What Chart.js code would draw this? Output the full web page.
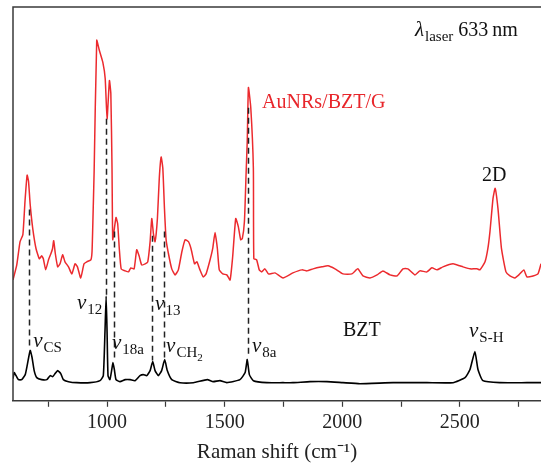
<!DOCTYPE html>
<html lang="en">
<head>
<meta charset="UTF-8">
<title>Raman spectra</title>
<script src="https://cdn.jsdelivr.net/npm/chart.js@4.4.0/dist/chart.umd.min.js"></script>
<style>
    html, body { margin: 0; padding: 0; background: #fff; }
    #chart_parent { width: 541px; height: 466px; }
</style>
</head>
<body>
<div id="chart_parent">
    <canvas id="myChart"></canvas>
</div>
<script>
    // AuNRs/BZT/G spectrum (offset upward), Raman shift in cm-1 and counts (arb.)
    var redShift = [600, 616, 630, 642, 651, 660, 666, 673, 684, 698, 712, 722, 729, 739, 751, 761, 768, 773, 780, 790,
        800, 811, 821, 836, 850, 864, 874, 888, 902, 914, 931, 936, 940, 945, 956, 967, 982, 992, 1000, 1010,
        1016, 1021, 1024, 1031, 1038, 1045, 1052, 1060, 1077, 1091, 1101, 1115, 1126, 1136, 1147, 1162, 1173, 1183, 1190, 1197,
        1204, 1214, 1222, 1230, 1237, 1244, 1251, 1261, 1275, 1289, 1303, 1318, 1332, 1346, 1357, 1372, 1382, 1395, 1409, 1421,
        1438, 1449, 1459, 1469, 1477, 1492, 1509, 1523, 1534, 1547, 1558, 1568, 1575, 1584, 1591, 1596, 1601, 1611, 1622, 1624,
        1636, 1647, 1657, 1671, 1686, 1714, 1748, 1790, 1829, 1850, 1876, 1914, 1939, 1969, 2003, 2041, 2066, 2088, 2118, 2148,
        2173, 2203, 2233, 2258, 2279, 2309, 2330, 2360, 2381, 2403, 2428, 2471, 2500, 2513, 2543, 2573, 2585, 2607, 2619, 2628,
        2641, 2650, 2662, 2677, 2696, 2713, 2734, 2751, 2772, 2785, 2811, 2832, 2845];
    var redCounts = [120, 135, 158, 165, 198, 224, 218, 195, 171, 151, 141, 144, 141, 130, 140, 146, 151, 159, 146, 133,
        136, 145, 138, 133, 126, 136, 133, 122, 136, 138, 140, 148, 181, 228, 358, 348, 336, 320, 280, 318,
        305, 231, 160, 171, 182, 176, 151, 131, 129, 128, 132, 131, 150, 144, 135, 136, 138, 158, 181, 166,
        158, 181, 221, 242, 231, 191, 160, 146, 131, 125, 130, 148, 160, 158, 151, 136, 138, 130, 123, 126,
        140, 151, 167, 151, 130, 126, 125, 120, 143, 181, 173, 160, 161, 178, 225, 258, 311, 291, 231, 141,
        140, 130, 128, 131, 126, 127, 122, 127, 130, 129, 131, 133, 134, 131, 126, 126, 131, 124, 122, 125,
        129, 125, 124, 131, 131, 125, 129, 128, 132, 130, 133, 136, 134, 133, 131, 131, 130, 138, 151, 168,
        201, 211, 191, 151, 128, 124, 122, 125, 130, 123, 124, 126, 136];

    // BZT reference spectrum
    var blackShift = [600, 605, 613, 623, 637, 652, 661, 673, 681, 690, 701, 722, 744, 758, 769, 779, 790, 803, 814, 836,
        871, 928, 970, 984, 991, 996, 1000, 1004, 1012, 1020, 1025, 1031, 1038, 1055, 1077, 1098, 1119, 1140, 1154, 1169,
        1183, 1194, 1204, 1218, 1232, 1245, 1256, 1275, 1310, 1367, 1426, 1451, 1480, 1509, 1565, 1587, 1596, 1605, 1622, 1679,
        1748, 1790, 1863, 1935, 2003, 2075, 2216, 2360, 2471, 2522, 2543, 2564, 2577, 2598, 2670, 2785, 2845];
    var blackCounts = [22, 28, 25, 21, 21, 26, 36, 50, 43, 30, 23, 21, 21, 25, 24, 27, 30, 27, 21, 19,
        18, 18, 20, 25, 68, 104, 68, 25, 21, 31, 38, 31, 21, 19, 21, 21, 20, 25, 26, 25,
        30, 39, 30, 25, 30, 41, 30, 21, 18, 18, 21, 19, 20, 18, 21, 28, 41, 26, 20, 18,
        18, 18, 19, 19, 18, 17, 18, 18, 18, 23, 31, 49, 31, 20, 18, 18, 18];

    // x ticks every 250, labels every 500
    var xTicks = [750, 1000, 1250, 1500, 1750, 2000, 2250, 2500, 2750];

    // dashed guide lines linking the two spectra
    var guideShift = [668, 997, 1030, 1191, 1241, 1598];
    var guideTop = [190, 280, 168, 164, 168, 291];
    var guideBottom = [53, 104, 40, 40, 43, 46];

    var serif = "'Liberation Serif', 'Times New Roman', serif";

    // text labels (x in cm-1, y in counts, baseline-left)
    var v_labels = [
        { x: 686, y: 53, parts: [['ν', 'i'], ['CS', 's']] },
        { x: 872, y: 91, parts: [['ν', 'i'], ['12', 's']] },
        { x: 1021, y: 51, parts: [['ν', 'i'], ['18a', 's']] },
        { x: 1204, y: 90, parts: [['ν', 'i'], ['13', 's']] },
        { x: 1251, y: 48, parts: [['ν', 'i'], ['CH', 's'], ['2', 'ss']] },
        { x: 1616, y: 48, parts: [['ν', 'i'], ['8a', 's']] },
        { x: 2539, y: 63, parts: [['ν', 'i'], ['S-H', 's']] },
        { x: 2003, y: 64, parts: [['BZT', 'n']] },
        { x: 2594, y: 218, parts: [['2D', 'n']] },
        { x: 1659, y: 291, parts: [['AuNRs/BZT/G', 'n']], color: '#e8262b' },
        { x: 2309, y: 362, parts: [['λ', 'i'], ['laser', 's'], [' 633\u2009nm', 'n']] }
    ];

    var pieceStyle = {
        i: { font: 'italic 21px ' + serif, dy: 0 },
        n: { font: '20px ' + serif, dy: 0 },
        s: { font: '15px ' + serif, dy: 5 },
        ss: { font: '11px ' + serif, dy: 9 }
    };

    var annotate = {
        id: 'annotate',
        afterDatasetsDraw: function (chart) {
            var ctx = chart.ctx, xs = chart.scales.x, ys = chart.scales.y, a = chart.chartArea;
            ctx.save();
            // frame: left and top edges
            ctx.strokeStyle = '#3a3a3a';
            ctx.lineWidth = 1.5;
            ctx.beginPath();
            ctx.moveTo(a.left, a.bottom);
            ctx.lineTo(a.left, a.top);
            ctx.lineTo(a.right, a.top);
            ctx.stroke();

            // dashed guides
            ctx.setLineDash([6, 4]);
            ctx.strokeStyle = '#222';
            ctx.lineWidth = 1.5;
            for (var i = 0; i < guideShift.length; i++) {
                var gx = Math.round(xs.getPixelForValue(guideShift[i])) + 0.5;
                ctx.beginPath();
                ctx.moveTo(gx, ys.getPixelForValue(guideTop[i]));
                ctx.lineTo(gx, ys.getPixelForValue(guideBottom[i]));
                ctx.stroke();
            }
            ctx.setLineDash([]);

            // labels
            ctx.textBaseline = 'alphabetic';
            ctx.textAlign = 'left';
            v_labels.forEach(function (l) {
                var px = xs.getPixelForValue(l.x), py = ys.getPixelForValue(l.y);
                ctx.fillStyle = l.color || '#111';
                l.parts.forEach(function (p) {
                    var st = pieceStyle[p[1]];
                    ctx.font = st.font;
                    ctx.fillText(p[0], px, py + st.dy);
                    px += ctx.measureText(p[0]).width + (p[1] === 'i' ? 1 : 0);
                });
            });
            ctx.restore();
        }
    };

    function toPoints(xArr, yArr) {
        return xArr.map(function (x, i) { return { x: x, y: yArr[i] }; });
    }

    const ctx = document.getElementById('myChart').getContext('2d');
    const myChart = new Chart(ctx, {
        type: 'line',
        data: {
            datasets: [{
                label: 'AuNRs/BZT/G',
                data: toPoints(redShift, redCounts),
                borderColor: '#ec2a2e',
                borderWidth: 1.5,
                pointRadius: 0,
                tension: 0.15
            }, {
                label: 'BZT',
                data: toPoints(blackShift, blackCounts),
                borderColor: '#000',
                borderWidth: 1.6,
                pointRadius: 0,
                tension: 0.15
            }]
        },
        options: {
            responsive: true,
            maintainAspectRatio: false,
            animation: false,
            devicePixelRatio: 1,
            layout: { padding: { left: 13, top: 7, right: 0, bottom: 1 } },
            plugins: {
                legend: { display: false },
                tooltip: { enabled: false }
            },
            scales: {
                x: {
                    type: 'linear',
                    min: 600,
                    max: 2845,
                    afterBuildTicks: function (scale) {
                        scale.ticks = xTicks.map(function (v) { return { value: v }; });
                    },
                    ticks: {
                        autoSkip: false,
                        maxRotation: 0,
                        padding: 4,
                        color: '#222',
                        font: { family: serif, size: 20 },
                        callback: function (v) { return v % 500 === 0 ? String(v) : ''; }
                    },
                    grid: {
                        drawOnChartArea: false,
                        drawTicks: true,
                        tickLength: 6,
                        tickWidth: 1.2,
                        color: '#3a3a3a'
                    },
                    border: { display: true, color: '#3a3a3a', width: 1.5 },
                    title: {
                        display: true,
                        text: 'Raman shift (cm\u207B\u00B9)',
                        color: '#222',
                        font: { family: serif, size: 21 },
                        padding: { top: 1, bottom: 0 }
                    }
                },
                y: {
                    display: false,
                    min: 0,
                    max: 391
                }
            }
        },
        plugins: [annotate]
    });
</script>
</body>
</html>
